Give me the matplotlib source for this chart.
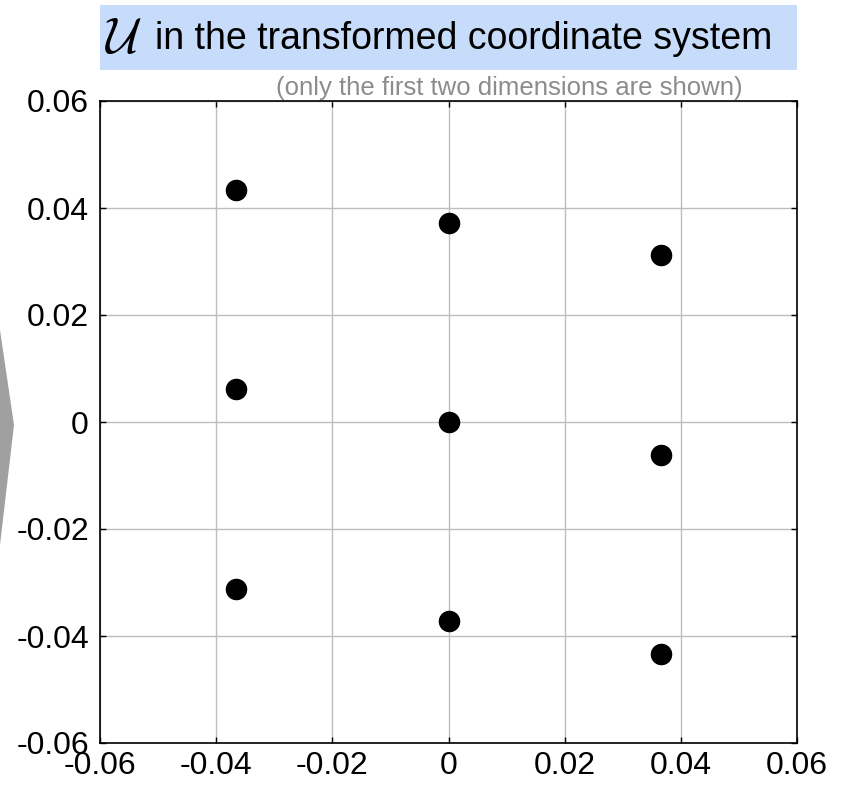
import matplotlib
matplotlib.use("Agg")
import matplotlib.pyplot as plt
from matplotlib.patches import Polygon, Rectangle

plt.rcParams['font.family'] = ['Liberation Sans', 'DejaVu Sans']
plt.rcParams['mathtext.fontset'] = 'cm'

# points of U (first two dimensions)
xs = [-0.0366, -0.0366, -0.0366, 0.0, 0.0, 0.0, 0.0366, 0.0366, 0.0366]
ys = [0.0433, 0.0062, -0.0312, 0.0372, 0.0, -0.0372, 0.0312, -0.0062, -0.0433]

ticks = [-0.06, -0.04, -0.02, 0, 0.02, 0.04, 0.06]
tick_labels = ['-0.06', '-0.04', '-0.02', '0', '0.02', '0.04', '0.06']

fig = plt.figure(figsize=(8.44, 7.87), dpi=100)
W, H = 844, 787
ax = fig.add_axes([100 / W, 1 - 743 / H, 697 / W, 642 / H])

ax.plot(xs, ys, 'o', color='black', markersize=14.5, zorder=3)
ax.set_xlim(-0.06, 0.06)
ax.set_ylim(-0.06, 0.06)
ax.set_xticks(ticks)
ax.set_xticklabels(tick_labels)
ax.set_yticks(ticks)
ax.set_yticklabels(tick_labels)
ax.grid(True, color='#bdbdbd', linewidth=1.0)
ax.tick_params(direction='in', length=4, width=1, labelsize=23,
               top=True, right=True)
ax.tick_params(axis='x', pad=6)
ax.tick_params(axis='y', pad=8)
for s in ax.spines.values():
    s.set_linewidth(1.2)

# title box
fig.patches.append(Rectangle((100 / W, 1 - 70 / H), 697 / W, 65 / H,
                             transform=fig.transFigure, facecolor='#c6dcfa',
                             edgecolor='none', zorder=0))
fig.text(124 / W, 1 - 40 / H, r'$\mathcal{U}$', ha='center', va='center', fontsize=36)
fig.text(155 / W, 1 - 39 / H, 'in the transformed coordinate system',
         ha='left', va='center', fontsize=27)
fig.text(509 / W, 1 - 88 / H, '(only the first two dimensions are shown)',
         ha='center', va='center', fontsize=18.5, color='#8c8c8c')

# grey arrow on the left edge
fig.patches.append(Polygon([(0, 1 - 330 / H), (0, 1 - 545 / H), (14 / W, 1 - 425 / H)],
                           closed=True, transform=fig.transFigure,
                           facecolor='#a0a0a0', edgecolor='none'))

fig.savefig('out.png', dpi=100)
